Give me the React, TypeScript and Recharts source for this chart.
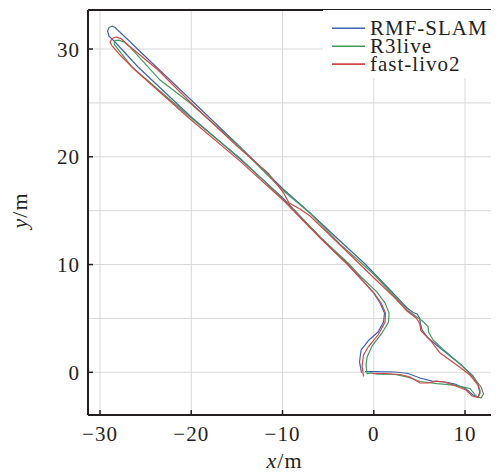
import { LineChart, Line, XAxis, YAxis, CartesianGrid, ReferenceLine, Legend } from "recharts";

// trajectories, [x, y] in metres
const rmfSlam: [number, number][] = [
  [-1.34, -0.02], [-1.56, 0.96], [-1.39, 2.07], [-0.52, 3.0], [0.47, 3.74], [1.07, 4.67], [1.18, 5.5],
  [0.69, 6.43], [-0.08, 7.45], [-2.93, 10.14], [-5.88, 12.55], [-9.94, 16.17], [-14.65, 19.79],
  [-20.13, 23.78], [-25.83, 28.33], [-28.35, 30.65], [-29.01, 31.2], [-29.17, 31.67], [-29.01, 31.99],
  [-28.68, 32.13], [-28.35, 31.99], [-27.25, 31.11], [-24.52, 28.89], [-20.13, 25.36], [-14.87, 21.09],
  [-9.94, 17.01], [-6.98, 14.78], [-3.69, 12.18], [-0.95, 10.05], [1.79, 7.64], [3.65, 5.97], [4.31, 5.55],
  [4.75, 5.41], [5.02, 5.04], [5.13, 4.48], [5.29, 3.93], [5.84, 3.28], [7.27, 2.25], [9.46, 0.77],
  [10.88, -0.34], [11.43, -1.18], [11.65, -1.92], [11.43, -2.29], [10.88, -2.1], [10.12, -1.55],
  [8.91, -1.09], [7.81, -0.9], [6.39, -0.81], [5.07, -0.53], [3.76, -0.11], [2.33, 0.03], [0.14, 0.07],
  [-0.95, 0.07],
];

const r3live: [number, number][] = [
  [-0.73, -0.16], [-0.84, 0.68], [-0.73, 1.42], [-0.19, 2.44], [0.91, 3.65], [1.62, 4.67], [1.68, 5.5],
  [1.24, 6.43], [0.36, 7.45], [-1.5, 8.94], [-2.71, 10.05], [-5.77, 12.46], [-9.83, 15.99], [-14.65, 19.88],
  [-20.13, 23.69], [-26.49, 28.33], [-28.46, 30.46], [-28.35, 30.79], [-27.91, 30.83], [-27.36, 30.65],
  [-26.71, 30.18], [-23.42, 27.12], [-20.13, 24.99], [-14.87, 21.05], [-9.94, 16.87], [-6.98, 14.78],
  [-3.69, 11.9], [-0.08, 9.17], [2.33, 6.99], [3.65, 5.78], [5.4, 4.71], [5.95, 4.25], [6.01, 3.74],
  [6.5, 3.0], [7.48, 2.21], [9.46, 0.77], [10.88, -0.39], [11.76, -1.36], [12.03, -2.01], [11.76, -2.38],
  [11.21, -2.2], [10.55, -1.5], [8.8, -1.18], [6.94, -1.04], [5.07, -0.85], [3.76, -0.44], [2.33, -0.2],
  [0.47, -0.16], [-0.41, -0.06], [-0.73, -0.16],
];

const fastLivo2: [number, number][] = [
  [-1.12, -0.39], [-1.28, 0.58], [-1.12, 1.61], [-0.62, 2.35], [0.47, 3.46], [1.24, 4.67], [1.29, 5.5],
  [0.8, 6.43], [0.03, 7.36], [-2.82, 9.96], [-5.77, 12.37], [-9.83, 15.9], [-14.65, 19.6], [-20.13, 23.5],
  [-26.16, 28.05], [-27.8, 29.44], [-28.68, 30.28], [-28.9, 30.65], [-28.68, 30.97], [-28.24, 31.11],
  [-27.69, 30.97], [-26.93, 30.37], [-23.64, 28.05], [-20.13, 25.08], [-14.87, 20.9], [-11.58, 18.49],
  [-9.94, 16.73], [-9.28, 15.71], [-8.08, 15.15], [-6.98, 14.5], [-3.69, 11.81], [-0.08, 8.84], [2.33, 6.89],
  [3.65, 5.69], [4.64, 5.04], [5.02, 4.57], [5.18, 3.83], [6.17, 3.0], [7.27, 1.79], [9.24, 0.58],
  [10.55, -0.25], [11.43, -1.18], [11.65, -1.74], [11.43, -2.34], [10.77, -2.2], [10.12, -1.64],
  [8.69, -1.18], [7.7, -0.9], [6.83, -0.81], [5.95, -0.99], [5.07, -0.99], [3.98, -0.44], [2.88, -0.2],
  [1.24, -0.11], [-0.19, -0.11],
];

const seriesNames = ["RMF-SLAM", "R3live", "fast-livo2"];
const seriesColors = ["#3e64ae", "#3f9b5c", "#d24646"];
const xTicks = [-30, -20, -10, 0, 10];
const yTicks = [0, 10, 20, 30];
const yGrid = [0, 5, 10, 15, 20, 25, 30];
const xDomain = [-31.315, 13.725];
const yDomain = [-3.96, 33.62];

const AXIS = "#231f20";
const FONT = "Liberation Serif, Times New Roman, serif";

const toPoints = (arr: [number, number][]) => arr.map(([x, y]) => ({ x, y }));
const fmt = (v: number) => (v < 0 ? `\u2212${Math.abs(v)}` : `${v}`);

const XTick = (props: any) => {
  const { x, y, payload } = props;
  return (
    <g>
      <line x1={x} y1={y} x2={x} y2={y - 5} stroke={AXIS} strokeWidth={1.5} />
      <text x={x} y={y + 26} textAnchor="middle" style={{ fontFamily: FONT }} fontSize={21} letterSpacing={1} fill="#1e1e1e">
        {fmt(payload.value)}
      </text>
    </g>
  );
};

const YTick = (props: any) => {
  const { x, y, payload } = props;
  return (
    <g>
      <line x1={x} y1={y} x2={x + 5} y2={y} stroke={AXIS} strokeWidth={1.5} />
      <text x={x - 8} y={y + 7.5} textAnchor="end" style={{ fontFamily: FONT }} fontSize={21} letterSpacing={1} fill="#1e1e1e">
        {fmt(payload.value)}
      </text>
    </g>
  );
};

const XLabel = (props: any) => {
  const vb = props.viewBox;
  return (
    <text x={vb.x + vb.width / 2 - 9} y={vb.y + 53} textAnchor="middle" style={{ fontFamily: FONT }} fontSize={22} letterSpacing={1} fill="#1e1e1e">
      <tspan fontStyle="italic">x</tspan>/m
    </text>
  );
};

const YLabel = (props: any) => {
  const vb = props.viewBox;
  const cx = vb.x + 18.5;
  const cy = vb.y + vb.height / 2 - 2;
  return (
    <text x={cx} y={cy} transform={`rotate(-90 ${cx} ${cy})`} textAnchor="middle" style={{ fontFamily: FONT }} fontSize={22} letterSpacing={1} fill="#1e1e1e">
      <tspan fontStyle="italic">y</tspan>/m
    </text>
  );
};

const LegendBox = (props: any) => {
  const payload = [...(props.payload || [])].sort(
    (a: any, b: any) => seriesNames.indexOf(a.value) - seriesNames.indexOf(b.value)
  );
  return (
    <svg width={176} height={68} style={{ display: "block" }}>
      <rect x={0} y={0} width={176} height={68} fill="#fff" />
      {payload.map((p: any, i: number) => (
        <g key={p.value}>
          <line x1={9} x2={42} y1={18.3 + i * 17.9} y2={18.3 + i * 17.9} stroke={p.color} strokeWidth={1.6} />
          <text x={47} y={25 + i * 17.9} style={{ fontFamily: FONT }} fontSize={21} letterSpacing={1} fill="#1e1e1e">
            {p.value}
          </text>
        </g>
      ))}
    </svg>
  );
};

const series = [rmfSlam, r3live, fastLivo2];

export default function App() {
  return (
    <LineChart width={491} height={464} margin={{ top: 2, right: 0, bottom: 0, left: 0 }}>
      <CartesianGrid
        stroke="#d8d8d8"
        strokeWidth={1}
        horizontalValues={yGrid}
        verticalValues={xTicks}
      />
      <XAxis
        type="number"
        dataKey="x"
        domain={xDomain}
        allowDataOverflow
        ticks={xTicks}
        interval={0}
        height={57}
        tickSize={0}
        tickMargin={0}
        tickLine={false}
        tick={<XTick />}
        axisLine={{ stroke: AXIS, strokeWidth: 2 }}
        label={{ content: XLabel }}
      />
      <YAxis
        type="number"
        dataKey="y"
        domain={yDomain}
        allowDataOverflow
        ticks={yTicks}
        interval={0}
        width={80}
        tickSize={0}
        tickMargin={0}
        tickLine={false}
        tick={<YTick />}
        axisLine={{ stroke: AXIS, strokeWidth: 2 }}
        label={{ content: YLabel }}
      />
      <ReferenceLine y={yDomain[1]} stroke={AXIS} strokeWidth={2} />
      {series.map((s, i) => (
        <Line
          key={seriesNames[i]}
          name={seriesNames[i]}
          data={toPoints(s)}
          dataKey="y"
          type="linear"
          stroke={seriesColors[i]}
          strokeWidth={1.2}
          dot={false}
          activeDot={false}
          isAnimationActive={false}
        />
      ))}
      <Legend
        layout="vertical"
        align="center"
        verticalAlign="middle"
        content={LegendBox}
        wrapperStyle={{ top: 2, left: 315, width: 176, height: 68 }}
      />
    </LineChart>
  );
}
